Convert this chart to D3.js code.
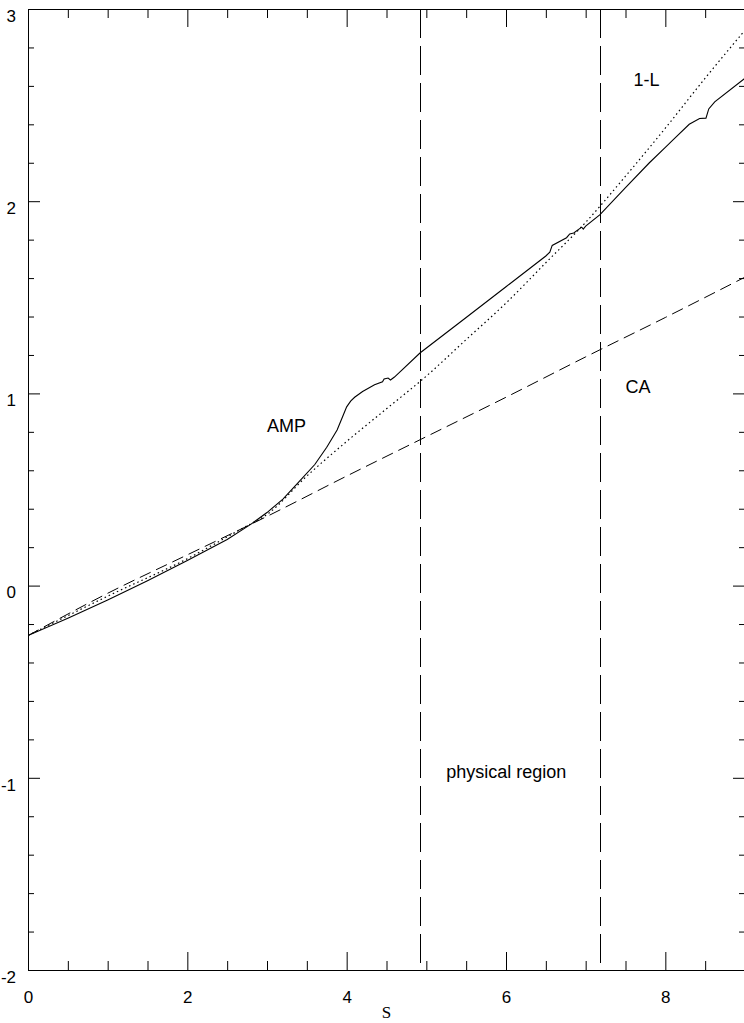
<!DOCTYPE html>
<html>
<head>
<meta charset="utf-8">
<script src="https://cdn.jsdelivr.net/npm/d3@7"></script>
<style>
  html, body { margin: 0; padding: 0; background: #fff; }
  svg { display: block; }
  text { font-family: "Liberation Sans", Arial, Helvetica, sans-serif; fill: #000; }
</style>
</head>
<body>
<svg id="chart" width="744" height="1023"></svg>
<script>
// ---- data ----
const xMajorTicks = [0, 2, 4, 6, 8];
const yMajorTicks = [-2, -1, 0, 1, 2, 3];
const xLabel = "S";

// AMP (solid)
const ampS = [0, 0.5, 1, 1.5, 2, 2.5, 2.8, 3.0, 3.2, 3.4, 3.6, 3.75, 3.88, 3.95, 4.0, 4.05, 4.1, 4.2, 4.35, 4.45, 4.47, 4.52, 4.55, 4.6, 4.92, 5.5, 6.0, 6.5, 6.55, 6.58, 6.76, 6.8, 6.85, 6.95, 6.97, 7.0, 7.18, 7.5, 7.8, 8.0, 8.1, 8.3, 8.43, 8.51, 8.545, 8.62, 9.0];
const ampV = [-0.26, -0.17, -0.075, 0.025, 0.13, 0.24, 0.32, 0.38, 0.45, 0.54, 0.63, 0.72, 0.81, 0.88, 0.93, 0.96, 0.98, 1.01, 1.045, 1.06, 1.075, 1.08, 1.07, 1.085, 1.21, 1.395, 1.555, 1.715, 1.735, 1.77, 1.81, 1.83, 1.835, 1.865, 1.855, 1.87, 1.93, 2.07, 2.2, 2.28, 2.32, 2.4, 2.43, 2.432, 2.48, 2.517, 2.64];

// 1-L (dotted)
const oneLS = [0, 1, 2, 2.7, 3.0, 3.5, 4.0, 4.5, 5.0, 5.5, 6.0, 6.5, 7.0, 7.5, 8.0, 8.5, 9.0];
const oneLV = [-0.26, -0.055, 0.14, 0.30, 0.37, 0.57, 0.75, 0.92, 1.09, 1.28, 1.47, 1.68, 1.89, 2.13, 2.38, 2.64, 2.89];

// CA (dashed)
const caS = [0, 1, 2, 3, 4, 5, 6, 7, 8, 9];
const caV = [-0.26, -0.04, 0.16, 0.36, 0.57, 0.775, 0.98, 1.19, 1.395, 1.605];

// physical region boundaries
const regionBounds = [4.92, 7.18];

// text annotations [label, s, v]
const annLabels = ["AMP", "1-L", "CA", "physical region"];
const annS = [3.0, 7.6, 7.5, 5.25];
const annV = [0.80, 2.60, 1.00, -1.00];

// ---- drawing ----
const svg = d3.select("#chart");
const x = d3.scaleLinear().domain([0, 9]).range([28, 745]);
const y = d3.scaleLinear().domain([-2, 3]).range([970, 9]);
const fmt = d => String(d); // plain hyphen-minus like the reference

const xMinor = d3.range(0, 9.001, 0.5).filter(v => !xMajorTicks.includes(v));
const yMinor = d3.range(-2, 3.001, 0.2).map(v => +v.toFixed(1)).filter(v => !yMajorTicks.includes(v));

const defs = svg.append("defs");
defs.append("clipPath").attr("id", "plotClip")
  .append("rect").attr("x", x(0)).attr("y", y(3)).attr("width", x(9) - x(0)).attr("height", y(-2) - y(3));

function styleAxis(g) {
  g.selectAll("path.domain").attr("stroke", "#000").attr("stroke-width", 1);
  g.selectAll(".tick line").attr("stroke", "#000").attr("stroke-width", 1);
  g.selectAll("text").attr("font-family", "'Liberation Sans', Arial, sans-serif").attr("font-size", 17).attr("fill", "#000");
}

// bottom axis with labels
const gB = svg.append("g").attr("transform", `translate(0,${y(-2)})`)
  .call(d3.axisBottom(x).tickValues(xMajorTicks).tickSizeInner(-18).tickSizeOuter(0).tickPadding(21).tickFormat(fmt));
styleAxis(gB);
svg.append("g").attr("transform", `translate(0,${y(-2)})`)
  .call(d3.axisBottom(x).tickValues(xMinor).tickSizeInner(-9).tickSizeOuter(0).tickFormat(""))
  .call(g => g.select(".domain").remove()).call(styleAxis);

// top axis
svg.append("g").attr("transform", `translate(0,${y(3)})`)
  .call(d3.axisTop(x).tickValues(xMajorTicks).tickSizeInner(-18).tickSizeOuter(0).tickFormat("")).call(styleAxis);
svg.append("g").attr("transform", `translate(0,${y(3)})`)
  .call(d3.axisTop(x).tickValues(xMinor).tickSizeInner(-9).tickSizeOuter(0).tickFormat(""))
  .call(g => g.select(".domain").remove()).call(styleAxis);

// left axis with labels
const gL = svg.append("g").attr("transform", `translate(${x(0)},0)`)
  .call(d3.axisLeft(y).tickValues(yMajorTicks).tickSizeInner(-12).tickSizeOuter(0).tickPadding(12).tickFormat(fmt));
styleAxis(gL);
gL.selectAll("text").attr("dy", "0.72em");
svg.append("g").attr("transform", `translate(${x(0)},0)`)
  .call(d3.axisLeft(y).tickValues(yMinor).tickSizeInner(-6).tickSizeOuter(0).tickFormat(""))
  .call(g => g.select(".domain").remove()).call(styleAxis);

// right axis
svg.append("g").attr("transform", `translate(${x(9)},0)`)
  .call(d3.axisRight(y).tickValues(yMajorTicks).tickSizeInner(-12).tickSizeOuter(0).tickFormat("")).call(styleAxis);
svg.append("g").attr("transform", `translate(${x(9)},0)`)
  .call(d3.axisRight(y).tickValues(yMinor).tickSizeInner(-6).tickSizeOuter(0).tickFormat(""))
  .call(g => g.select(".domain").remove()).call(styleAxis);

// x-axis title
svg.append("text").attr("x", (x(0) + x(9)) / 2).attr("y", 1018)
  .attr("text-anchor", "middle")
  .style("font-family", "'Liberation Serif', 'DejaVu Serif', serif").attr("font-size", 17)
  .text(xLabel);

// curves
const plot = svg.append("g").attr("clip-path", "url(#plotClip)");
const line = d3.line().x(d => x(d[0])).y(d => y(d[1])).curve(d3.curveMonotoneX);

const caData = d3.zip(caS, caV);
const oneLData = d3.zip(oneLS, oneLV);
const ampData = d3.zip(ampS, ampV);

plot.append("path").datum(caData).attr("d", line)
  .attr("fill", "none").attr("stroke", "#000").attr("stroke-width", 1).attr("stroke-dasharray", "12,6");
plot.append("path").datum(oneLData).attr("d", line)
  .attr("fill", "none").attr("stroke", "#000").attr("stroke-width", 1.2).attr("stroke-dasharray", "1.5,3");
plot.append("path").datum(ampData).attr("d", d3.line().x(d => x(d[0])).y(d => y(d[1])))
  .attr("fill", "none").attr("stroke", "#000").attr("stroke-width", 1.1);

// physical region vertical lines
plot.selectAll("line.region").data(regionBounds).enter().append("line")
  .attr("class", "region")
  .attr("x1", d => Math.round(x(d)) + 0.5).attr("x2", d => Math.round(x(d)) + 0.5)
  .attr("y1", y(3)).attr("y2", y(-2))
  .attr("stroke", "#000").attr("stroke-width", 1).attr("stroke-dasharray", "29,8");

// annotations
svg.selectAll("text.ann").data(annLabels).enter().append("text")
  .attr("class", "ann")
  .attr("x", (d, i) => x(annS[i])).attr("y", (d, i) => y(annV[i]))
  .attr("font-size", 18)
  .text(d => d);
</script>
</body>
</html>
